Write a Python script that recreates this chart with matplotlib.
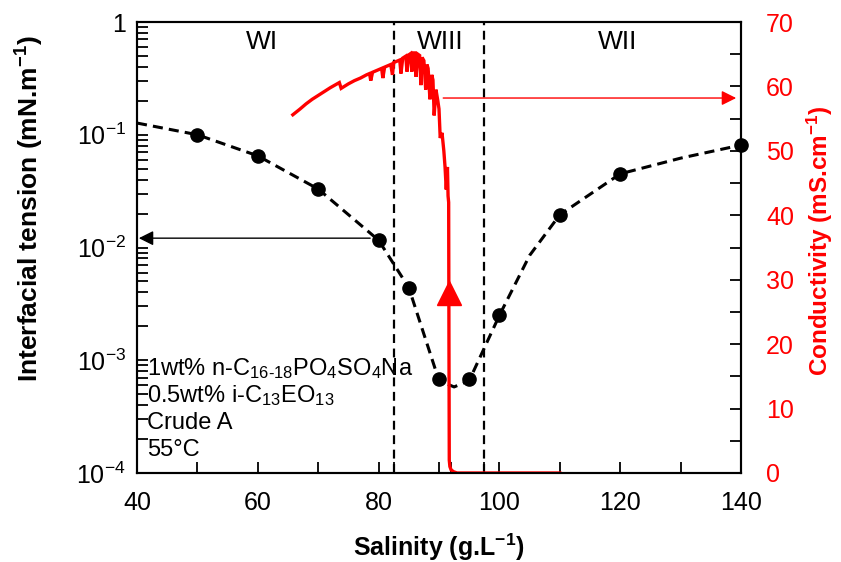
#!/usr/bin/env python3
"""
Interfacial tension and conductivity vs salinity (Winsor scan)
"""

import numpy as np
import matplotlib.pyplot as plt
from matplotlib.ticker import FixedLocator, FixedFormatter, NullFormatter

plt.rcParams['font.family'] = ['Liberation Sans', 'DejaVu Sans']
plt.rcParams['mathtext.fontset'] = 'custom'
plt.rcParams['mathtext.rm'] = 'Liberation Sans'
plt.rcParams['mathtext.it'] = 'Liberation Sans:italic'
plt.rcParams['mathtext.bf'] = 'Liberation Sans:bold'

# ----------------------
# Data
# ----------------------
# measured interfacial tension (mN/m)
salinity_pts = [50, 60, 70, 80, 85, 90, 95, 100, 110, 120, 140]
ift_pts = [0.10, 0.065, 0.033, 0.0116, 0.0044, 6.8e-4, 6.8e-4, 0.0025, 0.0195, 0.045, 0.081]

# dashed guide curve
fit_sal = [40, 50, 60, 70, 80, 85, 90, 92.5, 95, 100, 105, 110, 120, 130, 140]
fit_ift = [0.127, 0.10, 0.065, 0.033, 0.0116, 0.0044, 6.6e-4, 5.8e-4, 6.6e-4,
           0.0025, 0.0085, 0.0195, 0.045, 0.062, 0.081]

# conductivity scan (mS/cm)
cond_sal = [65.8, 67.0, 68.0, 69.0, 70.0, 71.0, 72.0, 73.5, 73.8, 75.0, 76.0, 77.0,
            78.0, 78.5, 78.7, 79.0, 80.0, 80.5, 80.7, 81.0, 82.0, 82.3, 82.5, 83.0,
            83.5, 83.7, 84.0, 84.5, 84.7, 85.0, 85.3, 85.5, 85.8, 86.0, 86.2, 86.5,
            86.8, 87.0, 87.2, 87.5, 87.8, 88.0, 88.2, 88.5, 88.8, 89.0, 89.2, 89.5,
            89.8, 90.0, 90.2, 90.5, 90.8, 91.0, 91.2, 91.4, 91.5, 91.6, 91.65, 91.7,
            91.8, 92.0, 92.4, 93.0, 95.0, 100.0, 105.0, 110.0]
cond_val = [55.6, 56.5, 57.3, 58.0, 58.6, 59.2, 59.8, 60.6, 59.7, 60.4, 60.9, 61.3,
            61.8, 62.0, 60.9, 62.2, 62.6, 62.8, 61.3, 63.0, 63.4, 61.8, 63.7, 63.9,
            64.1, 62.0, 64.4, 64.7, 62.3, 64.9, 65.1, 62.3, 65.2, 65.2, 61.5, 65.0,
            64.8, 60.2, 64.5, 64.0, 59.5, 63.4, 62.8, 58.0, 61.8, 61.0, 55.5, 59.5,
            57.8, 56.5, 52.0, 52.8, 50.0, 47.5, 44.0, 47.5, 43.0, 42.0, 20.0, 2.0,
            1.0, 0.5, 0.2, 0.0, 0.0, 0.0, 0.0, 0.0]

region_labels = ['WI', 'WIII', 'WII']
region_x = [60.7, 90.2, 119.6]
boundaries = [82.5, 97.4]

info_lines = [r'1wt% n-C$_{16\text{-}18}$PO$_4$SO$_4$Na',
              r'0.5wt% i-C$_{13}$EO$_{13}$',
              'Crude A',
              '55°C']

ift_ticks = [1e-4, 1e-3, 1e-2, 1e-1, 1]
ift_ticklabels = [r'10$^{-4}$', r'10$^{-3}$', r'10$^{-2}$', r'10$^{-1}$', '1']

fig = plt.figure(figsize=(8.41, 5.62), dpi=100)
ax = fig.add_axes([137 / 841, 1 - 473 / 562, 604 / 841, 451 / 562])
ax2 = ax.twinx()

# left axis: interfacial tension
ax.set_yscale('log')
ax.set_xlim(40, 140)
ax.set_ylim(1e-4, 1)
ax.plot(fit_sal, fit_ift, color='black', lw=2.2, ls=(0, (3.3, 2)), zorder=2)
ax.plot(salinity_pts, ift_pts, 'o', color='black', ms=9.5, zorder=3, clip_on=False)

for b in boundaries:
    ax.axvline(b, color='black', lw=1.6, ls=(0, (4, 2.5)), zorder=1)

for lab, x in zip(region_labels, region_x):
    ax.text(x, 0.955, lab, transform=ax.get_xaxis_transform(), ha='center',
            va='center', fontsize=19)

for i, line in enumerate(info_lines):
    ax.text(0.0166, 0.231 - i * 0.060, line, transform=ax.transAxes,
            ha='left', va='center', fontsize=17)

ax.annotate('', xy=(40.3, 0.0121), xytext=(78.6, 0.0121),
            arrowprops=dict(arrowstyle='-|>', color='black', lw=1.0,
                            mutation_scale=22, shrinkA=0, shrinkB=0))

ax.yaxis.set_major_locator(FixedLocator(ift_ticks))
ax.yaxis.set_major_formatter(FixedFormatter(ift_ticklabels))
ax.yaxis.set_minor_locator(FixedLocator(
    [m * 10.0 ** e for e in range(-4, 0) for m in range(2, 10)]))
ax.yaxis.set_minor_formatter(NullFormatter())

ax.set_xticks([40, 60, 80, 100, 120, 140])
ax.set_xticks([50, 70, 82.5, 90, 92, 97.4, 110, 130], minor=True)
ax.tick_params(axis='both', which='both', direction='in', labelsize=18,
               length=8, width=1.3, pad=8)
ax.tick_params(axis='x', which='both', top=False, pad=13)

ax.set_xlabel(r'Salinity (g.L$^{\mathbf{-1}}$)', fontsize=18, fontweight='bold',
              labelpad=12)
ax.set_ylabel(r'Interfacial tension (mN.m$^{\mathbf{-1}}$)', fontsize=19,
              fontweight='bold')
ax.yaxis.set_label_coords(-0.150, 0.585)

# right axis: conductivity
ax2.set_ylim(0, 70)
ax2.plot(cond_sal, cond_val, color='red', lw=2.4, solid_joinstyle='miter')
ax2.plot([91.62], [28], marker='^', color='red', ms=17, ls='none')
ax2.annotate('', xy=(139.2, 58.2), xytext=(90.7, 58.2),
             arrowprops=dict(arrowstyle='-|>', color='red', lw=1.0,
                             mutation_scale=22, shrinkA=0, shrinkB=0))
ax2.set_yticks(range(0, 71, 10))
ax2.set_yticks(range(5, 70, 10), minor=True)
ax2.tick_params(axis='y', which='both', direction='in', length=8, width=1.3,
                labelsize=18, labelcolor='red', pad=18)
ax2.set_ylabel(r'Conductivity (mS.cm$^{\mathbf{-1}}$)', fontsize=17.5,
               fontweight='bold', color='red')
ax2.yaxis.set_label_coords(1.105, 0.514)

for a in (ax, ax2):
    for s in a.spines.values():
        s.set_linewidth(1.5)

fig.savefig('out.png', dpi=100)
